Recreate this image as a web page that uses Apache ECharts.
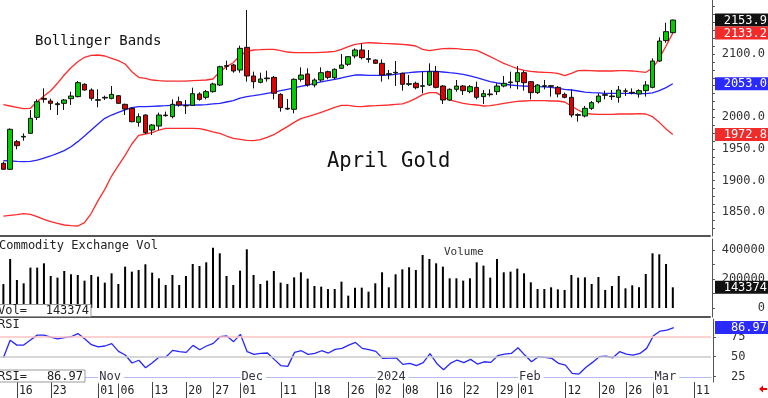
<!DOCTYPE html>
<html>
<head>
<meta charset="utf-8">
<title>April Gold</title>
<script src="https://cdn.jsdelivr.net/npm/echarts@6/dist/echarts.min.js"></script>
<style>
  html, body { margin: 0; padding: 0; background: #fff; }
  #chart { width: 768px; height: 398px; }
</style>
</head>
<body>
<div id="chart"></div>
<script>
// trading days, Oct 12 2023 .. Mar 6 2024 (MM/DD)
const dates = [
  '10/12', '10/13', '10/16', '10/17', '10/18', '10/19', '10/20', '10/23', '10/24', '10/25',
  '10/26', '10/27', '10/30', '10/31', '11/01', '11/02', '11/03', '11/06', '11/07', '11/08',
  '11/09', '11/10', '11/13', '11/14', '11/15', '11/16', '11/17', '11/20', '11/21', '11/22',
  '11/24', '11/27', '11/28', '11/29', '11/30', '12/01', '12/04', '12/05', '12/06', '12/07',
  '12/08', '12/11', '12/12', '12/13', '12/14', '12/15', '12/18', '12/19', '12/20', '12/21',
  '12/22', '12/26', '12/27', '12/28', '12/29', '01/02', '01/03', '01/04', '01/05', '01/08',
  '01/09', '01/10', '01/11', '01/12', '01/16', '01/17', '01/18', '01/19', '01/22', '01/23',
  '01/24', '01/25', '01/26', '01/29', '01/30', '01/31', '02/01', '02/02', '02/05', '02/06',
  '02/07', '02/08', '02/09', '02/12', '02/13', '02/14', '02/15', '02/16', '02/20', '02/21',
  '02/22', '02/23', '02/26', '02/27', '02/28', '02/29', '03/01', '03/04', '03/05', '03/06'
]
const futureDates = ['03/07', '03/08', '03/11', '03/12', '03/13']
const tickDates = [
  '10/16', '10/23', '11/01', '11/06', '11/13', '11/20', '11/27', '12/01', '12/11', '12/18', '12/26',
  '01/02', '01/08', '01/16', '01/22', '01/29', '02/01', '02/12', '02/20', '02/26', '03/01', '03/11'
]
const monthDates = ['11/01', '12/01', '01/02', '02/01', '03/01']
const monthNames = ['Nov', 'Dec', '2024', 'Feb', 'Mar']

const opens = [
  1927.2, 1917.7, 1961.5, 1968.8, 1974.6, 1999.9, 2030.0, 2025.8, 2021.5, 2022.1,
  2029.5, 2032.7, 2052.2, 2043.2, 2026.9, 2030.5, 2030.0, 2034.2, 2020.5, 2014.2,
  1992.0, 2003.6, 1979.9, 1986.2, 2003.6, 2001.0, 2024.7, 2018.6, 2018.9, 2036.9,
  2031.6, 2040.6, 2051.1, 2081.7, 2082.8, 2074.8, 2110.7, 2065.4, 2055.3, 2061.1,
  2063.2, 2036.3, 2014.2, 2012.6, 2060.1, 2068.5, 2051.1, 2059.0, 2072.2, 2062.7,
  2077.5, 2083.8, 2097.0, 2106.5, 2092.8, 2090.7, 2085.4, 2068.0, 2070.1, 2069.6,
  2052.2, 2053.8, 2049.0, 2051.1, 2072.2, 2049.5, 2027.4, 2044.3, 2049.5, 2040.6,
  2047.4, 2032.7, 2036.9, 2040.6, 2049.5, 2054.8, 2056.4, 2070.6, 2056.4, 2039.0,
  2049.0, 2050.0, 2047.4, 2036.3, 2031.6, 2004.2, 2002.1, 2014.2, 2024.7, 2034.8,
  2033.7, 2031.6, 2041.8, 2039.5, 2036.9, 2042.2, 2047.4, 2089.1, 2121.3, 2133.9
]
const closes = [
  1917.7, 1981.0, 1955.1, 1969.9, 1998.4, 2024.7, 2028.4, 2022.1, 2020.0, 2027.4,
  2033.7, 2054.8, 2043.2, 2030.0, 2027.9, 2031.6, 2036.3, 2022.1, 2013.1, 1993.1,
  2001.0, 1975.7, 1987.8, 2003.6, 2002.6, 2020.5, 2019.5, 2018.2, 2037.4, 2028.4,
  2040.6, 2052.7, 2080.1, 2080.6, 2073.3, 2109.1, 2065.4, 2056.4, 2060.6, 2062.2,
  2038.0, 2015.3, 2013.1, 2060.1, 2066.9, 2051.1, 2059.0, 2070.6, 2063.2, 2075.9,
  2082.8, 2095.9, 2106.5, 2094.4, 2091.7, 2085.4, 2066.9, 2069.0, 2071.2, 2052.2,
  2053.2, 2046.9, 2050.0, 2072.2, 2047.4, 2027.4, 2044.3, 2049.5, 2042.2, 2048.5,
  2031.6, 2037.4, 2035.8, 2049.5, 2053.8, 2055.9, 2070.6, 2054.8, 2039.0, 2051.1,
  2050.0, 2049.0, 2036.9, 2031.6, 2003.6, 2003.1, 2014.2, 2023.2, 2033.7, 2035.8,
  2032.7, 2043.2, 2041.4, 2038.5, 2042.2, 2051.1, 2089.1, 2120.7, 2135.5, 2153.9
]
const highs = [
  1929.8, 1982.6, 1964.1, 1974.6, 2011.6, 2028.4, 2045.8, 2029.5, 2024.7, 2029.0,
  2040.6, 2057.4, 2053.8, 2045.8, 2044.3, 2034.2, 2049.5, 2035.3, 2021.6, 2015.8,
  2006.3, 2004.7, 1989.4, 2007.4, 2009.0, 2028.4, 2032.7, 2027.4, 2046.9, 2039.5,
  2043.2, 2054.8, 2081.7, 2089.6, 2084.3, 2113.3, 2169.8, 2072.2, 2070.6, 2073.8,
  2065.4, 2038.0, 2029.0, 2061.7, 2079.0, 2077.5, 2061.7, 2079.0, 2073.8, 2077.5,
  2100.2, 2097.0, 2109.1, 2117.0, 2106.5, 2091.7, 2091.7, 2074.8, 2089.1, 2070.6,
  2066.9, 2056.4, 2072.2, 2085.4, 2081.2, 2051.1, 2045.8, 2059.0, 2051.1, 2051.1,
  2056.4, 2043.2, 2044.3, 2053.8, 2065.4, 2072.2, 2081.2, 2073.8, 2057.4, 2052.7,
  2059.0, 2051.1, 2049.5, 2039.0, 2044.3, 2006.3, 2017.9, 2025.8, 2037.9, 2042.2,
  2043.2, 2049.5, 2045.8, 2045.8, 2044.3, 2057.4, 2093.3, 2126.5, 2149.7, 2154.5
]
const lows = [
  1916.6, 1916.6, 1949.3, 1963.0, 1974.6, 1995.7, 2023.2, 2011.6, 2003.6, 2011.6,
  2019.5, 2031.6, 2042.2, 2026.3, 2015.8, 2027.4, 2028.4, 2021.0, 2003.6, 1992.0,
  1985.2, 1973.6, 1972.0, 1979.9, 2001.0, 1998.4, 2016.8, 2005.2, 2017.9, 2026.3,
  2028.4, 2039.0, 2049.5, 2074.8, 2070.6, 2070.6, 2056.4, 2045.8, 2053.8, 2056.4,
  2028.4, 2008.9, 2011.6, 2006.3, 2056.4, 2048.5, 2047.4, 2056.4, 2060.1, 2060.1,
  2076.4, 2081.2, 2093.3, 2091.7, 2086.5, 2084.3, 2056.4, 2060.1, 2049.5, 2042.2,
  2049.5, 2044.3, 2038.0, 2049.5, 2045.8, 2021.0, 2026.3, 2040.6, 2035.3, 2038.0,
  2028.4, 2021.0, 2032.7, 2035.3, 2047.4, 2045.8, 2044.3, 2042.2, 2028.4, 2036.9,
  2044.3, 2032.7, 2031.6, 2030.0, 1999.9, 1993.1, 1999.9, 2011.6, 2022.1, 2028.4,
  2027.4, 2023.2, 2033.7, 2036.3, 2031.1, 2032.7, 2045.8, 2087.5, 2118.1, 2132.8
]

// Bollinger bands as drawn
const upperBand = [
  2020.0, 2017.9, 2015.8, 2013.7, 2014.2, 2024.7, 2033.7, 2042.1, 2053.8, 2066.9,
  2078.5, 2088.0, 2094.9, 2098.0, 2098.6, 2097.0, 2093.3, 2089.6, 2084.3, 2072.2,
  2063.2, 2061.7, 2059.0, 2058.0, 2057.4, 2057.4, 2057.4, 2057.4, 2058.0, 2058.5,
  2059.0, 2060.6, 2072.2, 2080.1, 2086.4, 2098.0, 2103.9, 2106.5, 2107.0, 2107.6,
  2107.6, 2105.4, 2103.3, 2102.3, 2102.3, 2102.3, 2102.3, 2102.8, 2103.3, 2104.4,
  2107.6, 2111.8, 2115.5, 2117.0, 2118.1, 2117.6, 2117.0, 2116.5, 2116.0, 2115.5,
  2114.4, 2112.8, 2107.6, 2105.4, 2107.0, 2108.6, 2109.1, 2108.6, 2107.6, 2107.0,
  2106.0, 2101.2, 2095.9, 2090.7, 2085.4, 2081.2, 2077.0, 2074.3, 2072.7, 2071.7,
  2071.2, 2070.6, 2069.6, 2065.9, 2069.6, 2073.8, 2074.3, 2073.8, 2073.3, 2073.3,
  2073.3, 2073.8, 2073.8, 2073.3, 2072.2, 2071.2, 2077.5, 2093.3, 2112.8, 2133.2
]
const middleBand = [
  1931.4, 1930.9, 1930.3, 1929.8, 1930.3, 1932.4, 1935.6, 1938.8, 1943.0, 1947.2,
  1953.5, 1961.5, 1970.4, 1979.9, 1989.4, 1998.4, 2003.6, 2007.9, 2011.6, 2015.3,
  2016.8, 2016.8, 2017.4, 2017.9, 2018.4, 2019.0, 2019.5, 2019.5, 2019.5, 2019.5,
  2020.0, 2021.1, 2022.1, 2024.2, 2026.3, 2030.5, 2032.7, 2034.2, 2035.8, 2037.9,
  2040.0, 2042.1, 2044.3, 2046.4, 2049.0, 2051.1, 2053.8, 2055.9, 2058.0, 2060.1,
  2062.2, 2064.8, 2066.9, 2066.9, 2066.4, 2066.4, 2066.4, 2066.9, 2068.0, 2069.6,
  2070.6, 2071.7, 2072.2, 2072.7, 2072.7, 2071.7, 2070.6, 2069.6, 2068.0, 2065.4,
  2062.7, 2059.5, 2056.4, 2054.3, 2052.7, 2051.1, 2050.1, 2049.5, 2049.0, 2048.5,
  2048.0, 2047.4, 2045.8, 2044.3, 2043.2, 2041.6, 2040.0, 2039.0, 2038.5, 2037.9,
  2037.9, 2037.9, 2037.9, 2037.9, 2037.4, 2037.4, 2038.5, 2042.1, 2046.9, 2053.0
]
const lowerBand = [
  1843.8, 1844.9, 1846.0, 1847.5, 1846.5, 1842.8, 1838.6, 1834.9, 1832.2, 1829.6,
  1828.6, 1828.0, 1833.3, 1848.1, 1868.1, 1886.0, 1907.1, 1923.5, 1939.8, 1957.8,
  1971.5, 1973.6, 1975.7, 1979.9, 1982.6, 1982.6, 1982.6, 1982.6, 1982.6, 1982.0,
  1979.9, 1976.8, 1974.6, 1970.4, 1966.7, 1965.2, 1963.6, 1963.0, 1964.6, 1968.3,
  1972.5, 1978.9, 1985.2, 1992.0, 1997.8, 2001.0, 2004.2, 2007.9, 2011.6, 2015.8,
  2019.0, 2019.0, 2017.4, 2016.8, 2017.9, 2018.4, 2019.0, 2019.5, 2020.5, 2021.1,
  2024.7, 2030.0, 2035.8, 2039.0, 2039.0, 2032.7, 2027.4, 2024.7, 2022.1, 2020.5,
  2019.5, 2017.9, 2018.4, 2020.0, 2022.1, 2023.7, 2025.3, 2025.8, 2026.3, 2026.3,
  2026.3, 2025.8, 2025.8, 2024.2, 2017.9, 2011.6, 2006.3, 2005.2, 2004.7, 2004.7,
  2004.7, 2005.2, 2005.2, 2005.2, 2005.8, 2005.2, 2001.0, 1992.0, 1981.5, 1972.8
]

const volumes = [
  166000, 339900, 194200, 171100, 279800, 279800, 309800, 222000, 210400, 256600,
  233500, 228900, 189600, 228900, 217300, 175700, 240400, 166500, 286700, 252000,
  263600, 302900, 245100, 205800, 159500, 228900, 159500, 222000, 305200, 291300,
  316700, 418500, 379200, 222000, 159500, 258900, 406900, 228900, 166500, 189600,
  256600, 175700, 166500, 212700, 247400, 203500, 152600, 148000, 131800, 131800,
  182600, 85500, 141000, 141000, 113300, 171100, 247400, 143300, 233500, 268200,
  282100, 263600, 367600, 339900, 309800, 286700, 205800, 205800, 189600, 205800,
  316700, 293600, 210400, 339900, 247400, 252000, 272800, 240400, 178000, 131800,
  131800, 143300, 129500, 124800, 228900, 210400, 212700, 166500, 215000, 124800,
  152600, 222000, 136400, 157200, 143300, 235800, 379200, 372200, 305200, 143374
]
const rsi = [
  48.7, 71.0, 64.7, 64.8, 71.2, 77.4, 77.4, 75.0, 72.7, 74.2,
  75.4, 79.4, 72.7, 65.3, 62.5, 63.6, 66.7, 56.8, 52.2, 42.0,
  45.5, 36.0, 42.4, 49.6, 49.6, 58.1, 56.4, 55.5, 64.4, 58.9,
  63.6, 66.9, 75.4, 76.3, 69.1, 78.4, 56.4, 53.0, 54.2, 54.7,
  46.6, 38.6, 37.7, 55.5, 57.6, 53.0, 54.2, 57.6, 54.7, 59.3,
  60.6, 64.8, 68.2, 60.6, 58.9, 56.8, 47.9, 48.3, 48.7, 40.3,
  41.5, 38.6, 42.4, 53.8, 41.5, 33.5, 41.5, 45.8, 42.4, 46.6,
  40.7, 43.6, 42.8, 51.3, 53.4, 54.2, 61.4, 52.1, 43.6, 50.0,
  49.2, 47.9, 41.5, 39.4, 28.8, 28.0, 36.4, 42.8, 50.0, 50.8,
  48.7, 56.4, 53.4, 52.1, 54.2, 60.6, 76.7, 82.6, 83.9, 86.97
]

const priceLabels = [1850, 1900, 1950, 2000, 2050, 2100, 2150]
const volumeLabels = [0, 200000, 400000]
const rsiLabels = [25, 50, 75]

const MONO = '"DejaVu Sans Mono", monospace'
const categories = dates.concat(futureDates)
const candles = dates.map((d, i) => [opens[i], closes[i], lows[i], highs[i]])

const priceTicks = []
for (let v = 1825; v <= 2175; v += 12.5) priceTicks.push(v)

const chart = echarts.init(document.getElementById('chart'))

function panelX(gridIndex) {
  return {
    type: 'category',
    gridIndex: gridIndex,
    data: categories,
    axisLine: { onZero: false, lineStyle: { color: '#555', width: 2 } },
    axisTick: { show: false },
    axisLabel: { show: false },
    splitLine: { show: false }
  }
}

function panelY(gridIndex, min, max, labels, ticks, align, margin) {
  return {
    type: 'value',
    gridIndex: gridIndex,
    position: 'right',
    offset: 2,
    min: min,
    max: max,
    axisLine: { show: true, onZero: false, lineStyle: { color: '#555' } },
    axisTick: { show: true, customValues: ticks, length: 3, lineStyle: { color: '#555' } },
    axisLabel: {
      customValues: labels,
      align: align,
      margin: margin,
      color: '#333',
      fontFamily: MONO,
      fontSize: 12,
      formatter: gridIndex === 0 ? (v) => v.toFixed(1) : (v) => String(v)
    },
    splitLine: { show: false }
  }
}

chart.setOption({
  animation: false,
  backgroundColor: '#fff',
  grid: [
    { left: 0, right: 57, top: 0, height: 236 },
    { left: 0, right: 57, top: 239, height: 78 },
    { left: 0, right: 57, top: 319, height: 63 }
  ],
  xAxis: [
    panelX(0),
    panelX(1),
    {
      type: 'category',
      gridIndex: 2,
      data: categories,
      position: 'bottom',
      offset: -5,
      axisLine: { onZero: false, lineStyle: { color: '#b4bcf6', width: 1 } },
      axisTick: { show: false },
      axisLabel: {
        interval: (i, v) => monthDates.includes(v),
        formatter: (v) => monthNames[monthDates.indexOf(v)],
        align: 'left',
        verticalAlign: 'middle',
        margin: 0,
        color: '#334',
        fontFamily: MONO,
        fontSize: 12,
        backgroundColor: '#fff',
        padding: [1, 3, 0, 1]
      },
      splitLine: { show: false }
    },
    {
      type: 'category',
      gridIndex: 2,
      data: categories,
      position: 'bottom',
      axisLine: { show: false, onZero: false },
      axisTick: {
        show: true,
        alignWithLabel: true,
        interval: (i, v) => tickDates.includes(v),
        length: 16,
        lineStyle: { color: '#444' }
      },
      axisLabel: {
        interval: (i, v) => tickDates.includes(v),
        formatter: (v) => v.slice(3),
        align: 'left',
        margin: 3,
        padding: [0, 0, 0, 2],
        color: '#222',
        fontFamily: MONO,
        fontSize: 11.5
      },
      splitLine: { show: false }
    }
  ],
  yAxis: [
    panelY(0, 1812.2, 2185.6, priceLabels, priceTicks, 'right', 53),
    panelY(1, -62400, 478300, volumeLabels, [0, 100000, 200000, 300000, 400000], 'right', 53),
    panelY(2, 17.9, 97.9, rsiLabels, rsiLabels, 'left', 18)
  ],
  series: [
    {
      name: 'Upper',
      type: 'line',
      xAxisIndex: 0,
      yAxisIndex: 0,
      data: upperBand,
      symbol: 'none',
      z: 1,
      lineStyle: { color: '#ff2b2b', width: 1.3 }
    },
    {
      name: 'Middle',
      type: 'line',
      xAxisIndex: 0,
      yAxisIndex: 0,
      data: middleBand,
      symbol: 'none',
      z: 1,
      lineStyle: { color: '#2424ff', width: 1.3 }
    },
    {
      name: 'Lower',
      type: 'line',
      xAxisIndex: 0,
      yAxisIndex: 0,
      data: lowerBand,
      symbol: 'none',
      z: 1,
      lineStyle: { color: '#ff2b2b', width: 1.3 }
    },
    {
      name: 'April Gold',
      type: 'candlestick',
      xAxisIndex: 0,
      yAxisIndex: 0,
      data: candles,
      barWidth: 5,
      z: 3,
      itemStyle: {
        color: '#00cc00',
        color0: '#e00000',
        borderColor: '#111',
        borderColor0: '#111',
        borderWidth: 1
      }
    },
    {
      name: 'Volume',
      type: 'bar',
      xAxisIndex: 1,
      yAxisIndex: 1,
      data: volumes,
      barWidth: 2,
      itemStyle: { color: '#000' }
    },
    {
      name: 'RSI',
      type: 'line',
      xAxisIndex: 2,
      yAxisIndex: 2,
      data: rsi,
      symbol: 'none',
      z: 3,
      lineStyle: { color: '#2626ff', width: 1.3 },
      markLine: {
        silent: true,
        symbol: ['none', 'none'],
        label: { show: false },
        data: [
          { yAxis: 75, lineStyle: { color: '#ffc2c2', width: 1.5, type: 'solid' } },
          { yAxis: 50, lineStyle: { color: '#cacaca', width: 1.5, type: 'solid' } }
        ]
      }
    }
  ]
})

// value boxes on the right axis, placed through the axes' own scales
const last = dates.length - 1
const TOP = { z: 100, zlevel: 1 }
function valueBox(axisIndex, value, text, color) {
  const y = chart.convertToPixel({ yAxisIndex: axisIndex }, value)
  return {
    type: 'group',
    z: TOP.z,
    zlevel: TOP.zlevel,
    children: [
      { type: 'rect', z: TOP.z, zlevel: TOP.zlevel, shape: { x: 715, y: y - 6.5, width: 53, height: 13 }, style: { fill: color } },
      {
        type: 'text',
        z: TOP.z + 1,
        zlevel: TOP.zlevel,
        style: { x: 767, y: y + 0.5, text: text, fill: '#fff', font: '12px ' + MONO, align: 'right', verticalAlign: 'middle' }
      }
    ]
  }
}
function label(text, x, y, size, color) {
  return {
    type: 'text',
    z: TOP.z,
    zlevel: TOP.zlevel,
    style: { x: x, y: y, text: text, fill: color || '#111', font: size + 'px ' + MONO, verticalAlign: 'middle' }
  }
}
function leftBox(y, w, name, value) {
  return {
    type: 'group',
    z: TOP.z,
    zlevel: TOP.zlevel,
    children: [
      { type: 'rect', z: TOP.z, zlevel: TOP.zlevel, shape: { x: -2, y: y, width: w, height: 12 }, style: { fill: '#fff', stroke: '#999', lineWidth: 1 } },
      { type: 'text', z: TOP.z + 1, zlevel: TOP.zlevel, style: { x: -2, y: y + 6.5, text: name, fill: '#222', font: '12px ' + MONO, verticalAlign: 'middle' } },
      { type: 'text', z: TOP.z + 1, zlevel: TOP.zlevel, style: { x: w - 4, y: y + 6.5, text: value, fill: '#222', font: '12px ' + MONO, align: 'right', verticalAlign: 'middle' } }
    ]
  }
}

chart.setOption({
  graphic: [
    label('Bollinger Bands', 35, 41.5, 14),
    label('April Gold', 327, 162, 20.5),
    label('Commodity Exchange Vol', -1, 246, 12, '#222'),
    label('Volume', 444, 252.5, 11, '#333'),
    label('RSI', -2, 325, 12, '#222'),
    leftBox(304.5, 93, 'Vol=', String(volumes[last])),
    leftBox(370, 87, 'RSI=', rsi[last].toFixed(2)),
    valueBox(0, closes[last], closes[last].toFixed(1), '#111'),
    valueBox(0, upperBand[last], upperBand[last].toFixed(1), '#f22a2a'),
    valueBox(0, middleBand[last], middleBand[last].toFixed(1), '#2a2aff'),
    valueBox(0, lowerBand[last], lowerBand[last].toFixed(1), '#f22a2a'),
    valueBox(1, volumes[last], String(volumes[last]), '#111'),
    valueBox(2, rsi[last], rsi[last].toFixed(2), '#2a2aff'),
    {
      type: 'polygon',
      z: TOP.z,
      zlevel: TOP.zlevel,
      shape: { points: [[759, 389], [763, 385.5], [763, 388], [767, 388], [767, 390], [763, 390], [763, 392.5]] },
      style: { fill: '#ee0000' }
    }
  ]
})
</script>
</body>
</html>
